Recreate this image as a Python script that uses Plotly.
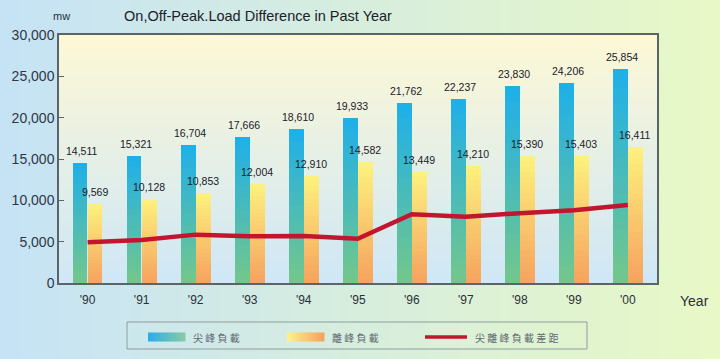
import plotly.graph_objects as go

# ---------------- data ----------------
years = ["'90", "'91", "'92", "'93", "'94", "'95", "'96", "'97", "'98", "'99", "'00"]
peak_load = [14511, 15321, 16704, 17666, 18610, 19933, 21762, 22237, 23830, 24206, 25854]
offpeak_load = [9569, 10128, 10853, 12004, 12910, 14582, 13449, 14210, 15390, 15403, 16411]
load_gap = [4942, 5193, 5851, 5662, 5700, 5351, 8313, 8027, 8440, 8803, 9443]
y_ticks = [0, 5000, 10000, 15000, 20000, 25000, 30000]
series_names = ["尖峰負載", "離峰負載", "尖離峰負載差距"]
title_text = "On,Off-Peak.Load Difference in Past Year"

# ---------------- geometry / style ----------------
W, H = 720, 359
ML, MR, MT, MB = 59, 63, 35, 76
PW, PH = W - ML - MR, H - MT - MB

def px_x(px):
    return (px - ML) / PW

def px_y(py):
    return (H - MB - py) / PH

def hex2rgb(h):
    h = h.lstrip("#")
    return tuple(int(h[i:i + 2], 16) for i in (0, 2, 4))

def mix(c1, c2, t):
    a, b = hex2rgb(c1), hex2rgb(c2)
    return "rgb(%d,%d,%d)" % tuple(round(a[k] + (b[k] - a[k]) * t) for k in range(3))

BLUE_TOP, BLUE_BOT = "#1eafea", "#74c78a"
YEL_TOP, YEL_BOT = "#fdf27e", "#f6a25e"
RED = "#c3152e"

fig = go.Figure()

# gradient bars built from stacked overlay layers
N = 24
BW = 0.272
for vals, top, bot, off in [(peak_load, BLUE_TOP, BLUE_BOT, -BW - 0.003),
                            (offpeak_load, YEL_TOP, YEL_BOT, 0.003)]:
    for i in range(N):
        frac = (N - i - 0.5) / N
        fig.add_trace(go.Bar(
            x=years, y=[v * (N - i) / N for v in vals],
            width=BW, offset=off,
            marker=dict(color=mix(bot, top, frac), line=dict(width=0)),
            showlegend=False, hoverinfo="skip",
        ))

fig.add_trace(go.Scatter(
    x=years, y=load_gap, mode="lines",
    line=dict(color=RED, width=4.5),
    name=series_names[2], showlegend=False,
))

shapes = []
# page background: horizontal gradient
NS = 72
for k in range(NS):
    x0 = k * W / NS
    x1 = (k + 1) * W / NS + 0.6
    shapes.append(dict(type="rect", xref="paper", yref="paper",
                       x0=px_x(x0), x1=px_x(x1), y0=px_y(H), y1=px_y(0),
                       fillcolor=mix("#c6e3f5", "#e8f8c6", k / (NS - 1)),
                       line=dict(width=0), layer="below"))
# plot area: vertical gradient
NP = 50
for k in range(NP):
    shapes.append(dict(type="rect", xref="paper", yref="paper",
                       x0=0, x1=1, y0=k / NP, y1=(k + 1) / NP + 0.004,
                       fillcolor=mix("#cfe7f6", "#fdf8d6", k / (NP - 1)),
                       line=dict(width=0), layer="below"))

# custom legend
shapes.append(dict(type="rect", xref="paper", yref="paper",
                   x0=px_x(127), x1=px_x(587), y0=px_y(349), y1=px_y(322),
                   line=dict(color="#8f9c9e", width=1), fillcolor="rgba(0,0,0,0)"))
NG = 12
for (xa, xb, c1, c2) in [(148, 185, "#2aaee8", "#86caa6"), (287, 324, "#fcf088", "#f6a45e")]:
    for k in range(NG):
        s0 = xa + (xb - xa) * k / NG
        s1 = xa + (xb - xa) * (k + 1) / NG + 0.5
        shapes.append(dict(type="rect", xref="paper", yref="paper",
                           x0=px_x(s0), x1=px_x(s1), y0=px_y(341.5), y1=px_y(332.5),
                           fillcolor=mix(c1, c2, k / (NG - 1)), line=dict(width=0)))
shapes.append(dict(type="line", xref="paper", yref="paper",
                   x0=px_x(425), x1=px_x(467), y0=px_y(337), y1=px_y(337),
                   line=dict(color=RED, width=3.5)))

annotations = []
for name, xpos in zip(series_names, [191, 330, 473]):
    annotations.append(dict(text=" ".join(name), xref="paper", yref="paper",
                            x=px_x(xpos), y=px_y(337), xanchor="left", yanchor="middle",
                            showarrow=False,
                            font=dict(family="Noto Sans CJK TC", size=10, color="#5f6870")))

# value labels
LBL_FONT = dict(family="Liberation Sans, Arial", size=10.5, color="#1a2029")
for cat, v in zip(years, peak_load):
    annotations.append(dict(text=f"{v:,}", x=cat, y=v, xref="x", yref="y",
                            xshift=-6, yshift=4, yanchor="bottom", showarrow=False,
                            font=LBL_FONT))
for cat, v in zip(years, offpeak_load):
    annotations.append(dict(text=f"{v:,}", x=cat, y=v, xref="x", yref="y",
                            xshift=7, yshift=4, yanchor="bottom", showarrow=False,
                            font=LBL_FONT))

# mw and Year labels
annotations.append(dict(text="mw", xref="paper", yref="paper", x=px_x(61), y=px_y(16),
                        showarrow=False, xanchor="center", yanchor="middle",
                        font=dict(family="Liberation Sans, Arial", size=11, color="#2a2f38")))
annotations.append(dict(text="Year", xref="paper", yref="paper", x=px_x(694), y=px_y(301),
                        showarrow=False, xanchor="center", yanchor="middle",
                        font=dict(family="Liberation Sans, Arial", size=14, color="#2a2f38")))

fig.update_layout(
    width=W, height=H,
    margin=dict(l=ML, r=MR, t=MT, b=MB, pad=0),
    paper_bgcolor="rgba(0,0,0,0)", plot_bgcolor="rgba(0,0,0,0)",
    barmode="overlay", bargap=0,
    showlegend=False,
    title=dict(text=title_text, x=px_x(258), xref="paper", xanchor="center",
               y=1 - 16 / H, yref="container", yanchor="middle",
               font=dict(family="Liberation Sans, Arial", size=14.5, color="#1c2028")),
    shapes=shapes, annotations=annotations,
    xaxis=dict(type="category", range=[-0.53, 10.54], showgrid=False,
               showline=True, linecolor="#5b6468", linewidth=1.5, mirror=True,
               ticks="", tickfont=dict(family="Liberation Sans, Arial", size=12, color="#2a2f38"),
               ticklabelstandoff=5, zeroline=False),
    yaxis=dict(range=[0, 30000], tickvals=y_ticks, tickformat=",", showgrid=False,
               showline=True, linecolor="#5b6468", linewidth=1.5, mirror=True,
               ticks="inside", ticklen=5, tickcolor="#5b6468", tickwidth=1.2,
               tickfont=dict(family="Liberation Sans, Arial", size=14, color="#2f3744"),
               zeroline=False),
)

fig.write_html("out.html", config={"displayModeBar": False},
               post_script="document.body.style.margin='0';")
